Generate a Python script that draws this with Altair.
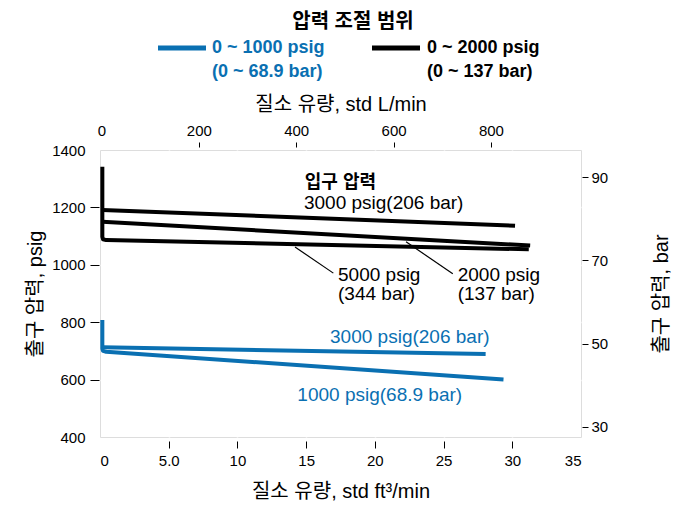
import altair as alt
import pandas as pd

# ---- data: nitrogen flow (std ft3/min) vs outlet pressure (psig)
series_names = ["3000 black", "2000 black", "5000 black", "3000 blue", "1000 blue"]
series_colors = ["#000000", "#000000", "#000000", "#0a70b2", "#0a70b2"]

blk3000_flow = [0.17, 30.2]
blk3000_psig = [1191, 1136]
blk2000_flow = [0.17, 31.3]
blk2000_psig = [1150, 1067]
blk5000_flow = [0.17, 0.17, 0.22, 0.45, 31.2]
blk5000_psig = [1342, 1098, 1089, 1086, 1054]
blu3000_flow = [0.17, 28.06]
blu3000_psig = [713, 689]
blu1000_flow = [0.17, 0.17, 0.22, 0.45, 29.36]
blu1000_psig = [808, 708, 700, 697, 600]

x_ticks = [0, 5, 10, 15, 20, 25, 30, 35]
y_ticks = [400, 600, 800, 1000, 1200, 1400]
lpm_ticks = [0, 200, 400, 600, 800]
bar_ticks = [30, 50, 70, 90]

rows = []
for name, fl, ps in zip(series_names,
                        [blk3000_flow, blk2000_flow, blk5000_flow, blu3000_flow, blu1000_flow],
                        [blk3000_psig, blk2000_psig, blk5000_psig, blu3000_psig, blu1000_psig]):
    for i, (f, p) in enumerate(zip(fl, ps)):
        rows.append({"series": name, "flow": f, "psig": p, "ord": i})
df = pd.DataFrame(rows)

LAT = "Liberation Sans"
KR = "Liberation Sans, Noto Sans CJK KR"
BLUE = "#0a70b2"

x_scale = alt.Scale(domain=[0, 35], nice=False, zero=False)
y_scale = alt.Scale(domain=[400, 1400], nice=False, zero=False)

x_axis = alt.Axis(
    values=x_ticks, labelExpr="datum.value == 5 ? '5.0' : datum.label",
    grid=True, gridColor="white", gridWidth=1.5,
    gridOpacity=alt.ExprRef("datum.value == 0 || datum.value == 35 ? 0 : 1"),
    tickOpacity=alt.ExprRef("datum.value == 0 || datum.value == 35 ? 0 : 1"),
    domain=False, tickColor="black", tickSize=7, offset=4, labelPadding=5,
    labelFont=LAT, labelFontSize=15, labelColor="black",
    title="질소 유량, std ft³/min", titleFont=KR, titleFontSize=20,
    titleFontWeight="normal", titleColor="black", titlePadding=13)
y_axis = alt.Axis(
    values=y_ticks, format="d", grid=True, gridColor="white", gridWidth=1.5,
    gridOpacity=alt.ExprRef("datum.value == 400 || datum.value == 1400 ? 0 : 1"),
    tickOpacity=alt.ExprRef("datum.value == 400 || datum.value == 1400 ? 0 : 1"),
    domain=False, tickColor="black", tickSize=9, offset=1, labelPadding=5,
    labelFont=LAT, labelFontSize=15, labelColor="black",
    title="출구 압력, psig", titleFont=KR, titleFontSize=20,
    titleFontWeight="normal", titleColor="black", titlePadding=6)

lines = alt.Chart(df).mark_line(strokeWidth=4, strokeCap="butt", strokeJoin="round").encode(
    x=alt.X("flow:Q", scale=x_scale, axis=x_axis),
    y=alt.Y("psig:Q", scale=y_scale, axis=y_axis),
    color=alt.Color("series:N", scale=alt.Scale(domain=series_names, range=series_colors), legend=None),
    order=alt.Order("ord:Q"),
)

# ---- annotations (data coordinates)
def note(text, flow, psig, color="black", weight="normal", size=19):
    d = pd.DataFrame({"flow": [flow], "psig": [psig], "t": [text]})
    return alt.Chart(d).mark_text(align="left", baseline="middle", font=KR, fontSize=size,
                                  fontWeight=weight, color=color).encode(
        x="flow:Q", y="psig:Q", text="t:N")

notes = [
    note("입구 압력", 14.9, 1286, weight="bold", size=18),
    note("3000 psig(206 bar)", 14.84, 1216),
    note("5000 psig", 17.32, 963),
    note("(344 bar)", 17.32, 897),
    note("2000 psig", 26.03, 963),
    note("(137 bar)", 26.03, 897),
    note("3000 psig(206 bar)", 16.74, 747, color=BLUE),
    note("1000 psig(68.9 bar)", 14.36, 547, color=BLUE),
]

leaders = pd.DataFrame({"flow": [14.19, 22.27], "psig": [1062, 1080],
                        "flow2": [16.98, 25.67], "psig2": [971, 969]})
leader_rules = alt.Chart(leaders).mark_rule(color="black", strokeWidth=1.2).encode(
    x="flow:Q", y="psig:Q", x2="flow2:Q", y2="psig2:Q")

# ---- header and legend (pixel positions relative to plot area)
def ptext(text, x, y, color="black", size=18, weight="bold", align="left", font=LAT):
    d = pd.DataFrame({"t": [text]})
    return alt.Chart(d).mark_text(align=align, baseline="middle", font=font, fontSize=size,
                                  fontWeight=weight, color=color).encode(
        x=alt.value(x), y=alt.value(y), text="t:N")

def pline(x1, x2, y, color):
    d = pd.DataFrame({"k": [0]})
    return alt.Chart(d).mark_rule(color=color, strokeWidth=5).encode(
        x=alt.value(x1), x2=alt.value(x2), y=alt.value(y))

header = [
    ptext("압력 조절 범위", 253, -128, size=20, align="center", font=KR),
    pline(58, 106, -102, BLUE),
    ptext("0 ~ 1000 psig", 112, -102, color=BLUE),
    ptext("(0 ~ 68.9 bar)", 112, -78, color=BLUE),
    pline(272, 320, -102, "black"),
    ptext("0 ~ 2000 psig", 327, -102),
    ptext("(0 ~ 137 bar)", 327, -78),
]

main = alt.layer(lines, leader_rules, *notes, *header)

# ---- secondary axes: L/min on top, bar on right
secondary = alt.Chart(df).transform_calculate(
    lpm="datum.flow * 28.3168", bar="datum.psig / 14.5038"
).mark_line(opacity=0).encode(
    x=alt.X("lpm:Q", scale=alt.Scale(domain=[-3, 985], nice=False, zero=False),
            axis=alt.Axis(orient="top", values=lpm_ticks, grid=False, domain=False,
                          tickOpacity=alt.ExprRef("datum.value == 0 ? 0 : 1"),
                          tickColor="black", tickSize=5, offset=3, labelPadding=4,
                          labelFont=LAT, labelFontSize=15, labelColor="black",
                          title="질소 유량, std L/min", titleFont=KR, titleFontSize=20,
                          titleFontWeight="normal", titleColor="black", titlePadding=9)),
    y=alt.Y("bar:Q", scale=alt.Scale(domain=[400 / 14.5038, 1400 / 14.5038], nice=False, zero=False),
            axis=alt.Axis(orient="right", values=bar_ticks, grid=False, domain=False,
                          tickColor="black", tickSize=6, offset=1, labelPadding=3,
                          labelFont=LAT, labelFontSize=15, labelColor="black",
                          title="출구 압력, bar", titleFont=KR, titleFontSize=20,
                          titleFontWeight="normal", titleColor="black", titleAngle=270,
                          titlePadding=64)),
    detail="series:N",
)

chart = alt.layer(main, secondary).resolve_scale(x="independent", y="independent").properties(
    width=481, height=287,
    padding={"left": 92, "top": 142, "right": 98, "bottom": 64},
    autosize=alt.AutoSizeParams(type="none"),
).configure_view(fill="#dcdcde", stroke=None).configure(background="white")

chart.save("out.html", embed_options={"renderer": "svg", "actions": False})
